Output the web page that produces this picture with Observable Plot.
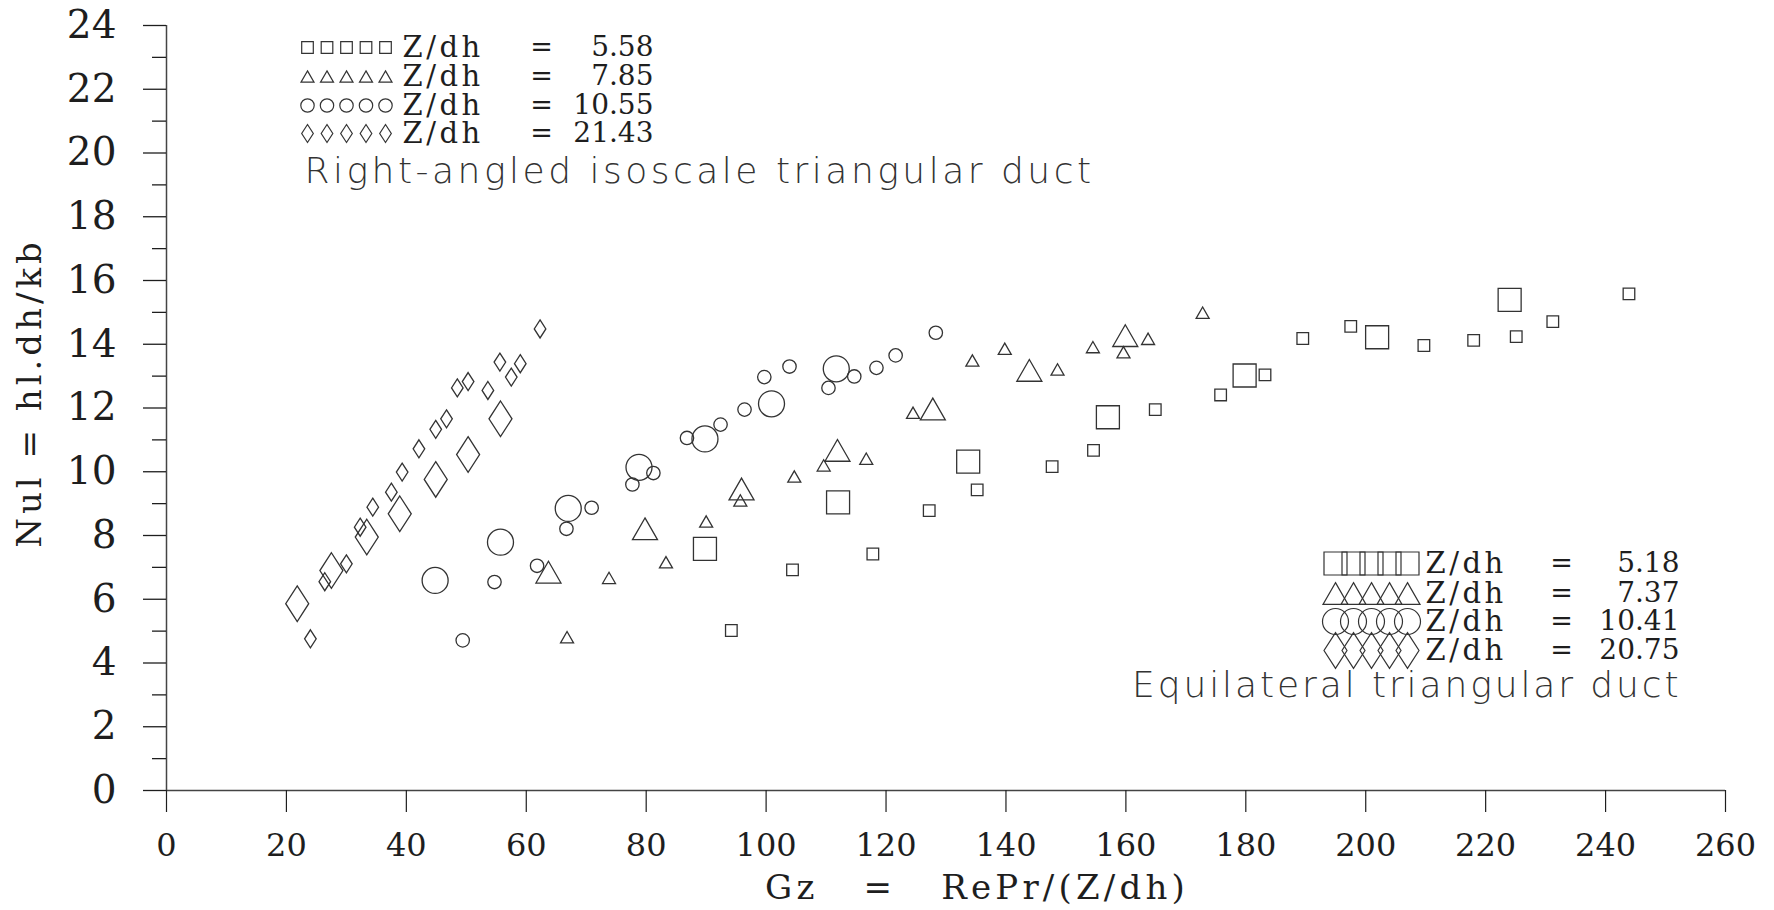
<!DOCTYPE html>
<html>
<head>
<meta charset="utf-8">
<script src="https://cdn.jsdelivr.net/npm/d3@7"></script>
<script src="https://cdn.jsdelivr.net/npm/@observablehq/plot@0.6"></script>
<style>
  html, body { margin: 0; padding: 0; background: #fff; overflow: hidden; }
  svg text { white-space: pre; }
</style>
</head>
<body>
<div id="chart"></div>
<script>
// ---- Right-angled isosceles triangular duct (small symbols) ----
const raZdh = ["5.58", "7.85", "10.55", "21.43"];

const raSqGz = [94.2, 104.4, 117.8, 127.2, 135.2, 147.7, 154.6, 164.9, 175.8, 183.2, 189.5, 197.5, 209.7, 218.0, 225.1, 231.2, 243.9];
const raSqNu = [5.02, 6.92, 7.42, 8.78, 9.43, 10.16, 10.67, 11.95, 12.41, 13.04, 14.18, 14.56, 13.96, 14.12, 14.24, 14.71, 15.58];

const raTriGz = [66.8, 73.8, 83.3, 90.0, 95.7, 104.7, 109.6, 116.7, 124.5, 134.4, 139.8, 148.6, 154.5, 159.6, 163.7, 172.8];
const raTriNu = [4.81, 6.67, 7.16, 8.44, 9.10, 9.85, 10.20, 10.41, 11.85, 13.49, 13.86, 13.21, 13.91, 13.75, 14.17, 14.99];

const raCirGz = [49.4, 54.7, 61.8, 66.7, 70.9, 77.7, 81.2, 86.8, 92.4, 96.4, 99.7, 103.9, 110.4, 114.7, 118.4, 121.6, 128.3];
const raCirNu = [4.71, 6.54, 7.05, 8.21, 8.87, 9.60, 9.96, 11.06, 11.48, 11.95, 12.97, 13.30, 12.63, 12.99, 13.26, 13.65, 14.36];

const raDiaGz = [24.0, 26.4, 30.0, 32.3, 34.4, 37.5, 39.3, 42.1, 44.9, 46.7, 48.5, 50.3, 53.6, 55.6, 57.5, 59.0, 62.3];
const raDiaNu = [4.76, 6.55, 7.11, 8.26, 8.89, 9.36, 9.99, 10.72, 11.33, 11.66, 12.63, 12.83, 12.55, 13.44, 12.97, 13.39, 14.48];

// ---- Equilateral triangular duct (large symbols) ----
const eqZdh = ["5.18", "7.37", "10.41", "20.75"];

const eqSqGz = [89.8, 112.0, 133.7, 157.0, 179.8, 201.9, 224.0];
const eqSqNu = [7.58, 9.04, 10.32, 11.71, 13.02, 14.22, 15.39];

const eqTriGz = [63.7, 79.8, 95.9, 111.9, 127.8, 143.9, 159.9];
const eqTriNu = [6.85, 8.21, 9.46, 10.67, 11.97, 13.18, 14.27];

const eqCirGz = [44.8, 55.7, 67.0, 78.8, 89.8, 100.9, 111.7];
const eqCirNu = [6.59, 7.79, 8.85, 10.14, 11.03, 12.13, 13.23];

const eqDiaGz = [21.8, 27.5, 33.4, 38.9, 44.9, 50.3, 55.7];
const eqDiaNu = [5.86, 6.90, 7.95, 8.68, 9.76, 10.54, 11.66];

// ---- Axis ticks and texts ----
const xTicks = d3.range(0, 261, 20);
const yTicks = d3.range(0, 25, 2);
const yMinorTicks = d3.range(1, 24, 2);
const xTitle = "Gz   =   RePr/(Z/dh)";
const yTitle = "Nul = hl.dh/kb";
const raTitle = "Right-angled isoscale triangular duct";
const eqTitle = "Equilateral triangular duct";
const keyLabel = "Z/dh";

// ---- Outline symbols (r is the half width) ----
const half = (size) => Math.sqrt(size / Math.PI);
const symSquare = {draw(c, s) { const r = half(s); c.rect(-r, -r, 2 * r, 2 * r); }};
const symTriangle = {draw(c, s) {
  const r = half(s), h = 0.87 * r;
  c.moveTo(0, -h); c.lineTo(r, h); c.lineTo(-r, h); c.closePath();
}};
const symCircle = {draw(c, s) { const r = half(s); c.moveTo(r, 0); c.arc(0, 0, r, 0, 2 * Math.PI); c.closePath(); }};
const symDiamond = {draw(c, s) {
  const r = half(s), h = 1.55 * r;
  c.moveTo(0, -h); c.lineTo(r, 0); c.lineTo(0, h); c.lineTo(-r, 0); c.closePath();
}};

const symbols = [symSquare, symTriangle, symCircle, symDiamond];
const smallR = [5.8, 6.5, 6.7, 5.8];
const largeR = [11.5, 12.5, 13, 11.5];

const rows = (gz, nu) => gz.map((g, i) => ({gz: g, nu: nu[i]}));
const raSeries = [rows(raSqGz, raSqNu), rows(raTriGz, raTriNu), rows(raCirGz, raCirNu), rows(raDiaGz, raDiaNu)];
const eqSeries = [rows(eqSqGz, eqSqNu), rows(eqTriGz, eqTriNu), rows(eqCirGz, eqCirNu), rows(eqDiaGz, eqDiaNu)];

// ---- Layout ----
const W = 1774, H = 910;
const ML = 166, MR = 49, MT = 25, MB = 120;
const ink = "#1e1e1e";
const markInk = "#333";
const serif = "DejaVu Serif";
const thin = "DejaVu Sans";

// extra tracking for the wide plotter lettering
const tracking = new Map([[xTitle, 4.2], [yTitle, 4], [raTitle, 3.5], [eqTitle, 2.9], [keyLabel, 3.5]]);

// legend blocks (pixel positions within the svg)
const raKey = {x0: 307, step: 19.5, rowsY: [47, 76, 105, 133], keyX: 402, eqX: 541, valX: 653, titleX: 304, titleY: 171, anchor: "start"};
const eqKey = {x0: 1335, step: 18, rowsY: [563, 593, 621, 650], keyX: 1425, eqX: 1561, valX: 1679, titleX: 1681, titleY: 685, anchor: "end"};

function legendMarks(key, labels, rs, title) {
  const out = [];
  const at = (px, py) => ({frameAnchor: "top-left", dx: px - ML, dy: py - MT});
  labels.forEach((lab, k) => {
    const y = key.rowsY[k];
    for (let j = 0; j < 5; j++) {
      out.push(Plot.dot([0], {...at(key.x0 + j * key.step, y), symbol: symbols[k], r: rs[k],
        stroke: markInk, strokeWidth: 1.2, fill: "none"}));
    }
    out.push(Plot.text([keyLabel], {...at(key.keyX, y), text: d => d, textAnchor: "start", lineAnchor: "middle",
      fontFamily: serif, fontSize: 29, fill: ink}));
    out.push(Plot.text(["="], {...at(key.eqX, y), text: d => d, textAnchor: "middle", lineAnchor: "middle",
      fontFamily: serif, fontSize: 27, fill: ink}));
    out.push(Plot.text([lab], {...at(key.valX, y), text: d => d, textAnchor: "end", lineAnchor: "middle",
      fontFamily: serif, fontSize: 28, fill: ink}));
  });
  out.push(Plot.text([title], {...at(key.titleX, key.titleY), text: d => d, textAnchor: key.anchor, lineAnchor: "middle",
    fontFamily: thin, fontWeight: 200, fontSize: 36, fill: "#333"}));
  return out;
}

const dataMarks = [];
raSeries.forEach((d, k) => dataMarks.push(Plot.dot(d, {x: "gz", y: "nu", symbol: symbols[k], r: smallR[k],
  stroke: markInk, strokeWidth: 1.3, fill: "none"})));
eqSeries.forEach((d, k) => dataMarks.push(Plot.dot(d, {x: "gz", y: "nu", symbol: symbols[k], r: largeR[k],
  stroke: markInk, strokeWidth: 1.3, fill: "none"})));

const chart = Plot.plot({
  width: W, height: H,
  marginLeft: ML, marginRight: MR, marginTop: MT, marginBottom: MB,
  style: {background: "#fff", color: ink},
  x: {domain: [0, 260], label: null},
  y: {domain: [0, 24], label: null},
  marks: [
    Plot.ruleX([0], {y1: 0, y2: 24, stroke: "#444", strokeWidth: 1.5}),
    Plot.ruleY([0], {x1: 0, x2: 260, stroke: "#444", strokeWidth: 1.5}),
    Plot.axisY(yTicks, {tickSize: 23, tickPadding: 27, fontSize: 39, fontFamily: serif, color: ink,
      strokeWidth: 1.3, label: null}),
    Plot.axisY(yMinorTicks, {tickSize: 14, tickFormat: () => "", color: ink, strokeWidth: 1.3, label: null}),
    Plot.axisX(xTicks, {tickSize: 22, tickPadding: 21, fontSize: 32, fontFamily: serif, color: ink,
      strokeWidth: 1.2, label: null}),
    Plot.text([xTitle], {frameAnchor: "bottom", dx: 31, dy: 98, text: d => d, textAnchor: "middle", lineAnchor: "middle",
      fontFamily: serif, fontSize: 34, fill: ink}),
    Plot.text([yTitle], {frameAnchor: "left", dx: -136, dy: -15, rotate: -90, text: d => d,
      textAnchor: "middle", lineAnchor: "middle", fontFamily: serif, fontSize: 34, fill: ink}),
    ...dataMarks,
    ...legendMarks(raKey, raZdh, smallR, raTitle),
    ...legendMarks(eqKey, eqZdh, largeR, eqTitle)
  ]
});

// apply letter tracking to the long labels
chart.querySelectorAll("text").forEach((t) => {
  const s = t.textContent;
  if (tracking.has(s)) t.style.letterSpacing = tracking.get(s) + "px";
});

document.getElementById("chart").appendChild(chart);
</script>
</body>
</html>
